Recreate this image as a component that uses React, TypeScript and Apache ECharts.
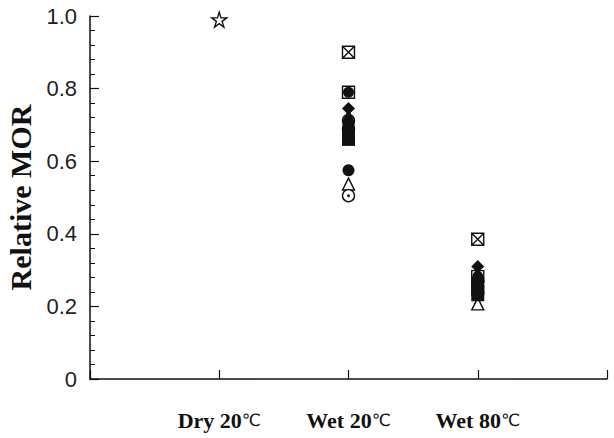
import React, { useEffect, useRef } from "react";
import * as echarts from "echarts";

const categories = ["Dry 20℃", "Wet 20℃", "Wet 80℃"];
const yTicks = [0, 0.2, 0.4, 0.6, 0.8, 1.0];

// Dry 20℃ reference (star)
const dryStar = [0.99];
// Wet 20℃, Wet 80℃ values per specimen type
const boxCross = [0.9, 0.385];
const boxCircle = [0.79, 0.282];
const filledDiamond = [0.745, 0.31];
const filledTriangle = [0.726, 0.292];
const dotCircleHidden = [0.712, 0.27];
const openTriangleHidden = [0.688, 0.255];
const filledSquareC = [0.7, 0.268];
const filledSquareA = [0.678, 0.25];
const filledSquareB = [0.66, 0.232];
const filledCircle = [0.575, 0.258];
const openTriangle = [0.537, 0.207];
const dotCircle = [0.505, 0.236];

const STAR =
  "path://M50,0 L61.8,36.2 L100,36.2 L69.1,58.5 L80.9,95.1 L50,72.7 L19.1,95.1 L30.9,58.5 L0,36.2 L38.2,36.2 Z";
const BOXX = "path://M0,0 L10,0 L10,10 L0,10 Z M0,0 L10,10 M10,0 L0,10";

const wet = (vals: number[]) => vals.map((v, i) => [i + 2, v]);

export default function App() {
  const ref = useRef<HTMLDivElement>(null);
  useEffect(() => {
    if (!ref.current) return;
    const chart = echarts.init(ref.current, undefined, { renderer: "svg" });
    const black = "#111";
    const hollow = (symbol: string, data: number[][], size: number) => ({
      type: "scatter",
      symbol,
      symbolSize: size,
      data,
      itemStyle: { color: "#fff", borderColor: black, borderWidth: 1.4, opacity: 1 },
    });
    const filled = (symbol: string, data: number[][], size: number | number[]) => ({
      type: "scatter",
      symbol,
      symbolSize: size,
      data,
      itemStyle: { color: black, borderWidth: 0, opacity: 1 },
    });
    chart.setOption({
      animation: false,
      grid: { left: 90, right: 7, top: 16, bottom: 59, containLabel: false, outerBoundsMode: "none" },
      xAxis: {
        type: "value",
        min: 0,
        max: 4,
        interval: 1,
        splitLine: { show: false },
        axisLine: { onZero: false, lineStyle: { color: black, width: 1.5 } },
        axisTick: { inside: true, length: 9, lineStyle: { color: black, width: 1.2 } },
        axisLabel: {
          margin: 30,
          formatter: (v: number) => {
            const c = categories[v - 1];
            if (!c) return "";
            return `{b|${c.replace("℃", "")}}{c|℃}`;
          },
          rich: {
            b: { fontFamily: "Liberation Serif", fontWeight: "bold", fontSize: 22, color: black },
            c: { fontFamily: "DejaVu Sans", fontWeight: "normal", fontSize: 17, color: black },
          },
        },
      },
      yAxis: {
        type: "value",
        min: yTicks[0],
        max: yTicks[yTicks.length - 1],
        interval: 0.2,
        name: "Relative MOR",
        nameLocation: "middle",
        nameRotate: 90,
        nameGap: 52,
        nameTextStyle: {
          fontFamily: "Liberation Serif",
          fontWeight: "bold",
          fontSize: 30,
          color: black,
        },
        splitLine: { show: false },
        axisLine: { show: true, lineStyle: { color: black, width: 1.5 } },
        axisTick: { inside: true, length: 9, lineStyle: { color: black, width: 1.2 } },
        minorTick: { show: true, splitNumber: 5, length: 5, lineStyle: { color: black, width: 1 } },
        axisLabel: {
          margin: 13,
          fontFamily: "Liberation Sans",
          fontSize: 22,
          color: "#222",
          formatter: (v: number) => (v === 0 ? "0" : v.toFixed(1)),
        },
      },
      series: [
        hollow(STAR, [[1, dryStar[0]]], 15),
        hollow(BOXX, wet(boxCross), 12),
        hollow("rect", wet(boxCircle), 12),
        hollow("circle", wet(openTriangleHidden), 12),
        hollow("triangle", wet(openTriangle), 12),
        hollow("circle", wet(dotCircle), 12),
        filled("circle", wet(dotCircle), 3),
        hollow("circle", wet(dotCircleHidden), 12),
        filled("rect", wet(filledSquareB), 13),
        filled("rect", wet(filledSquareA), 13),
        filled("rect", wet(filledSquareC), [12, 10]),
        filled("triangle", wet(filledTriangle), 13),
        filled("diamond", wet(filledDiamond), 13),
        filled("circle", wet(filledCircle), 12),
        filled("circle", wet(boxCircle), 11),
      ],
    });
    return () => chart.dispose();
  }, []);
  return (
    <div
      ref={ref}
      style={{ position: "fixed", left: 0, top: 0, width: 614, height: 438, background: "#fff" }}
    />
  );
}
